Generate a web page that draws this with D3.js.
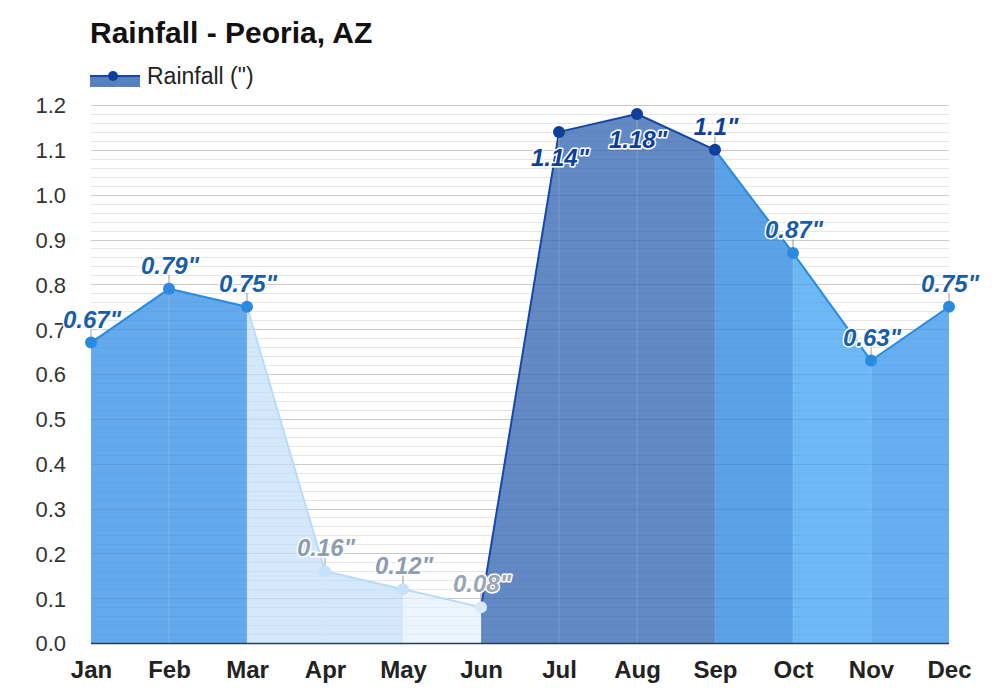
<!DOCTYPE html>
<html>
<head>
<meta charset="utf-8">
<script src="https://cdn.jsdelivr.net/npm/d3@7"></script>
<style>
  html, body { margin: 0; padding: 0; background: #fff; }
  svg { display: block; font-family: "Liberation Sans", Arial, sans-serif; }
</style>
</head>
<body>
<svg id="chart" width="1000" height="700"></svg>
<script>
// ---- data ----
const months = ["Jan","Feb","Mar","Apr","May","Jun","Jul","Aug","Sep","Oct","Nov","Dec"];
const rainfall = [0.67, 0.79, 0.75, 0.16, 0.12, 0.08, 1.14, 1.18, 1.1, 0.87, 0.63, 0.75];
const yTicks = [0, 0.1, 0.2, 0.3, 0.4, 0.5, 0.6, 0.7, 0.8, 0.9, 1.0, 1.1, 1.2];
const titleText = "Rainfall - Peoria, AZ";
const seriesName = "Rainfall (\")";

// ---- styles (per segment / per point) ----
const segFill  = ["#57a3ea","#57a3ea","#d0e6fb","#d0e6fb","#eaf4fe","#5680c0","#5680c0","#5680c0","#4e9ae4","#62b3f6","#5aa8ef"];
const segLine  = ["#2a8ae0","#2a8ae0","#b8dbfa","#b8dbfa","#b8dbfa","#1448a8","#1448a8","#1448a8","#2a8ae0","#2a8ae0","#2a8ae0"];
const ptColor  = ["#2a8ae0","#2a8ae0","#2a8ae0","#c6e2fb","#c6e2fb","#d6eafc","#0e3f9a","#0e3f9a","#0e3f9a","#2a8ae0","#2a8ae0","#2a8ae0"];
const lblColor = ["#1a5ea8","#1a5ea8","#1a5ea8","#8d9db1","#8d9db1","#9aa6b4","#0e3f9a","#0e3f9a","#0e3f9a","#1a5ea8","#1a5ea8","#1a5ea8"];

const svg = d3.select("#chart");
const x = d3.scalePoint().domain(months).range([91, 949]);
const y = d3.scaleLinear().domain([0, 1.2]).range([643, 105]);

// title
svg.append("text").attr("x", 90).attr("y", 43)
  .attr("font-size", 30).attr("font-weight", "bold").attr("fill", "#111")
  .text(titleText);

// legend
const lg = svg.append("g");
lg.append("rect").attr("x", 90).attr("y", 75).attr("width", 50).attr("height", 12).attr("fill", "#5680c0");
lg.append("line").attr("x1", 90).attr("x2", 140).attr("y1", 76).attr("y2", 76).attr("stroke", "#1448a8").attr("stroke-width", 2);
lg.append("circle").attr("cx", 113).attr("cy", 76).attr("r", 5).attr("fill", "#0e3f9a");
lg.append("text").attr("x", 147).attr("y", 84).attr("font-size", 23).attr("fill", "#222").text(seriesName);

// gridlines (minor + major)
const minor = d3.range(0, 121, 2).map(v => v / 100);
svg.append("g").selectAll("line").data(minor).join("line")
  .attr("x1", 91).attr("x2", 949)
  .attr("y1", d => Math.round(y(d)) + 0.5).attr("y2", d => Math.round(y(d)) + 0.5)
  .attr("stroke", "#ececec").attr("stroke-width", 1);
svg.append("g").selectAll("line").data(yTicks).join("line")
  .attr("x1", 91).attr("x2", 949)
  .attr("y1", d => Math.round(y(d)) + 0.5).attr("y2", d => Math.round(y(d)) + 0.5)
  .attr("stroke", "#d6d6d6").attr("stroke-width", 1);

// segment areas
const segs = d3.range(rainfall.length - 1).map(i => ({i, a: rainfall[i], b: rainfall[i + 1], m0: months[i], m1: months[i + 1]}));
const area = d3.area().x(d => d[0]).y0(y(0)).y1(d => d[1]);
svg.append("g").selectAll("path").data(segs).join("path")
  .attr("d", s => area([[x(s.m0), y(s.a)], [x(s.m1), y(s.b)]]))
  .attr("fill", s => segFill[s.i]).attr("fill-opacity", 0.93);

// gridlines faintly over fill
svg.append("g").selectAll("line").data(minor).join("line")
  .attr("x1", 91).attr("x2", 949)
  .attr("y1", d => Math.round(y(d)) + 0.5).attr("y2", d => Math.round(y(d)) + 0.5)
  .attr("stroke", "#000").attr("stroke-opacity", d => (Math.round(d * 100) % 10 === 0) ? 0.06 : 0.025);

// segment boundaries (subtle vertical lines)
svg.append("g").selectAll("line").data(months.slice(1, -1)).join("line")
  .attr("x1", d => x(d)).attr("x2", d => x(d))
  .attr("y1", (d, i) => y(rainfall[i + 1])).attr("y2", y(0))
  .attr("stroke", "#fff").attr("stroke-opacity", 0.15);

// segment lines
svg.append("g").selectAll("line").data(segs).join("line")
  .attr("x1", s => x(s.m0)).attr("y1", s => y(s.a))
  .attr("x2", s => x(s.m1)).attr("y2", s => y(s.b))
  .attr("stroke", s => segLine[s.i]).attr("stroke-width", 2).attr("stroke-linecap", "round");

// x axis line
svg.append("line").attr("x1", 91).attr("x2", 949).attr("y1", y(0) + 0.5).attr("y2", y(0) + 0.5)
  .attr("stroke", "#2b3a55").attr("stroke-width", 1.5);

// y axis labels
const yAxis = d3.axisLeft(y).tickValues(yTicks).tickFormat(d3.format(".1f")).tickSize(0).tickPadding(0);
const yg = svg.append("g").attr("transform", "translate(66,0)").call(yAxis);
yg.select(".domain").remove();
yg.selectAll("text").attr("font-size", 22).attr("fill", "#333").attr("font-family", "Liberation Sans, Arial, sans-serif").attr("dy", "0.36em");

// x axis labels
const xAxis = d3.axisBottom(x).tickSize(0).tickPadding(0);
const xg = svg.append("g").attr("transform", "translate(0,661)").call(xAxis);
xg.select(".domain").remove();
xg.selectAll("text").attr("font-size", 24).attr("font-weight", "bold").attr("fill", "#222")
  .attr("font-family", "Liberation Sans, Arial, sans-serif").attr("dy", "0.71em");

// points data
const pts = rainfall.map((v, i) => ({v, i, m: months[i]}));
const below = d => d.v > 1.12;

// leader lines
svg.append("g").selectAll("line").data(pts).join("line")
  .attr("x1", d => x(d.m)).attr("x2", d => x(d.m))
  .attr("y1", d => y(d.v)).attr("y2", d => below(d) ? y(d.v) + 14 : y(d.v) - 14)
  .attr("stroke", "#999").attr("stroke-width", 1);

// points
svg.append("g").selectAll("circle").data(pts).join("circle")
  .attr("cx", d => x(d.m)).attr("cy", d => y(d.v)).attr("r", 6)
  .attr("fill", d => ptColor[d.i]);

// value labels
svg.append("g").selectAll("text").data(pts).join("text")
  .attr("x", d => x(d.m) + 1)
  .attr("y", d => below(d) ? y(d.v) + 34 : y(d.v) - 15)
  .attr("text-anchor", "middle")
  .attr("font-size", 24).attr("font-weight", "bold").attr("font-style", "italic")
  .attr("fill", d => lblColor[d.i])
  .attr("stroke", "#fff").attr("stroke-width", 3).attr("paint-order", "stroke").attr("stroke-linejoin", "round")
  .text(d => d.v + "\"");
</script>
</body>
</html>
